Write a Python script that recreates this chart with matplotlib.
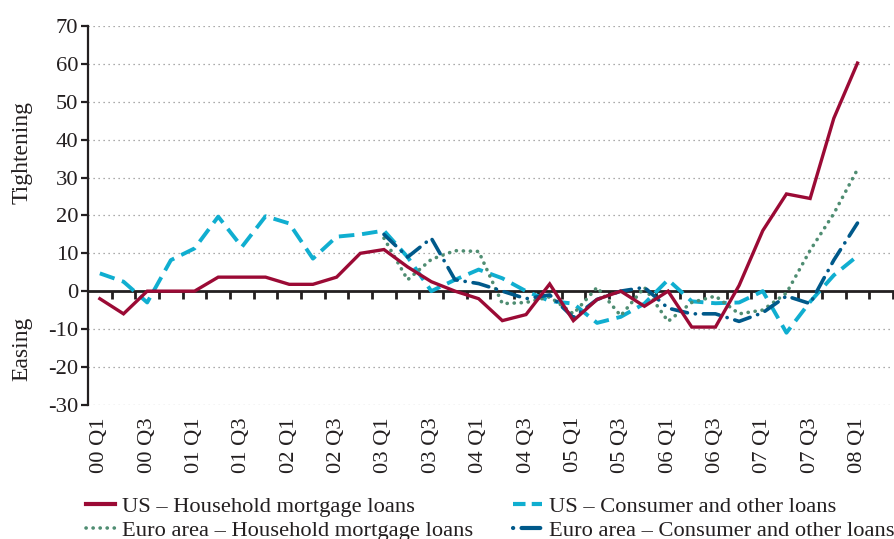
import matplotlib
matplotlib.use("Agg")
import matplotlib.pyplot as plt
from matplotlib.lines import Line2D
import numpy as np

plt.rcParams['font.family'] = ['Liberation Serif', 'DejaVu Serif']
plt.rcParams['axes.unicode_minus'] = False

quarters = [f"{y:02d} Q{q}" for y in range(0, 9) for q in range(1, 5)][:33]

us_mortgage = [-2, -6, 0, 0, 0, 3.7, 3.7, 3.7, 1.8, 1.8, 3.7, 10, 11,
               6.4, 2.5, 0, -2, -7.8, -6.2, 1.9, -7.8, -2.2, 0, -4, 0,
               -9.5, -9.5, 1.5, 16, 25.7, 24.5, 45.7, 60.3]
us_consumer = [4.7, 2.5, -3, 8.2, 11.3, 19.7, 11.7, 19.8, 17.9, 8.6, 14.4, 15, 16,
               9, 0, 3, 5.7, 3.4, 0, -2.6, -3.3, -8.4, -6.8, -3.3, 3,
               -2.7, -3.2, -3, 0, -11, -2.8, 4.2, 9.3]
# Euro area series start in 03 Q1 (index 12)
euro_start = 12
euro_mortgage = [14, 3, 8.4, 10.7, 10.5, -3.3, -3, -1.5, -6, 1, -6.5, 1, -8,
                 -3, -1.3, -6, -5, -0.5, 10.8, 20.5, 32.2]
euro_consumer = [15, 9, 14, 3, 2, 0, -2, -1, -7, -2.2, 0, 1, -4.5,
                 -6, -6, -8, -5.7, -1.3, -3.3, 8.2, 18]

labels = ["US – Household mortgage loans",
          "Euro area – Household mortgage loans",
          "US – Consumer and other loans",
          "Euro area – Consumer and other loans"]

c_red = "#9b0a35"
c_cyan = "#10aed0"
c_green = "#4f8d72"
c_navy = "#00598a"
axis_col = "#231f20"
fs = 16.2

fig = plt.figure(figsize=(8.95, 5.39), dpi=100)
ax = fig.add_axes([88/895, 1-404.6/539, (893-88)/895, (404.6-26.4)/539])

x_all = np.arange(len(quarters))
x_euro = np.arange(euro_start, euro_start + len(euro_mortgage))

ax.plot(x_all, us_mortgage, color=c_red, lw=2.4, solid_joinstyle='miter', zorder=5)
ax.plot(x_euro, euro_mortgage, color=c_green, lw=2.6, linestyle=(0, (0.05, 1.9)),
        dash_capstyle='round', zorder=4)
ax.plot(x_all, us_consumer, color=c_cyan, lw=2.8, linestyle=(0, (4, 2)), zorder=3)
ax.plot(x_euro, euro_consumer, color=c_navy, lw=2.6, linestyle=(0, (4.5, 2.2, 0.05, 2.2)),
        dash_capstyle='round', zorder=4)

ax.set_xlim(-0.5, 33.5)
ax.set_ylim(-30, 70)
ax.set_yticks(np.arange(-30, 71, 10))
ax.yaxis.grid(True, linestyle=(0, (1, 3)), color="#909090", lw=0.9)
ax.set_axisbelow(True)

for s in ['top', 'right']:
    ax.spines[s].set_visible(False)
ax.spines['left'].set_color(axis_col)
ax.spines['left'].set_linewidth(1.6)
ax.spines['bottom'].set_position(('data', 0))
ax.spines['bottom'].set_color(axis_col)
ax.spines['bottom'].set_linewidth(2.0)
ax.spines['bottom'].set_zorder(2)

ax.tick_params(axis='y', direction='out', length=5, width=1.6, color=axis_col,
               labelsize=fs, labelcolor=axis_col, pad=2)
ax.set_xticks(np.arange(0.5, 34, 1))
ax.tick_params(axis='x', direction='out', length=6, width=2, color=axis_col,
               labelbottom=False)

sec = ax.secondary_xaxis('bottom')
sec.set_xticks(x_all[::2])
sec.set_xticklabels(quarters[::2], rotation=90)
sec.tick_params(axis='x', length=0, labelsize=fs, labelcolor=axis_col, pad=9)
sec.spines['bottom'].set_visible(False)

fig.text(22/895, 1-152/539, "Tightening", rotation=90, ha='center', va='center',
         fontsize=fs + 0.8, color=axis_col)
fig.text(22/895, 1-349/539, "Easing", rotation=90, ha='center', va='center',
         fontsize=fs + 0.8, color=axis_col)

leg_kw = dict(frameon=False, fontsize=fs, handlelength=1.3, handletextpad=0.3,
              labelspacing=0.14, borderpad=0, borderaxespad=0, labelcolor=axis_col)
h1 = Line2D([], [], color=c_red, lw=3)
h2 = Line2D([], [], color=c_green, lw=2.6, linestyle=(0, (0.05, 1.9)), dash_capstyle='round')
h3 = Line2D([], [], color=c_cyan, lw=3, linestyle=(0, (3, 1.5)))
h4 = Line2D([], [], color=c_navy, lw=3, linestyle=(0, (0.05, 2, 4.5, 2)), dash_capstyle='round')
fig.legend([h1, h2], labels[:2], loc='upper left',
           bbox_to_anchor=(86/895, 1-496/539), **leg_kw)
fig.legend([h3, h4], labels[2:], loc='upper left',
           bbox_to_anchor=(513/895, 1-496/539), **leg_kw)

fig.savefig("out.png", dpi=100)
